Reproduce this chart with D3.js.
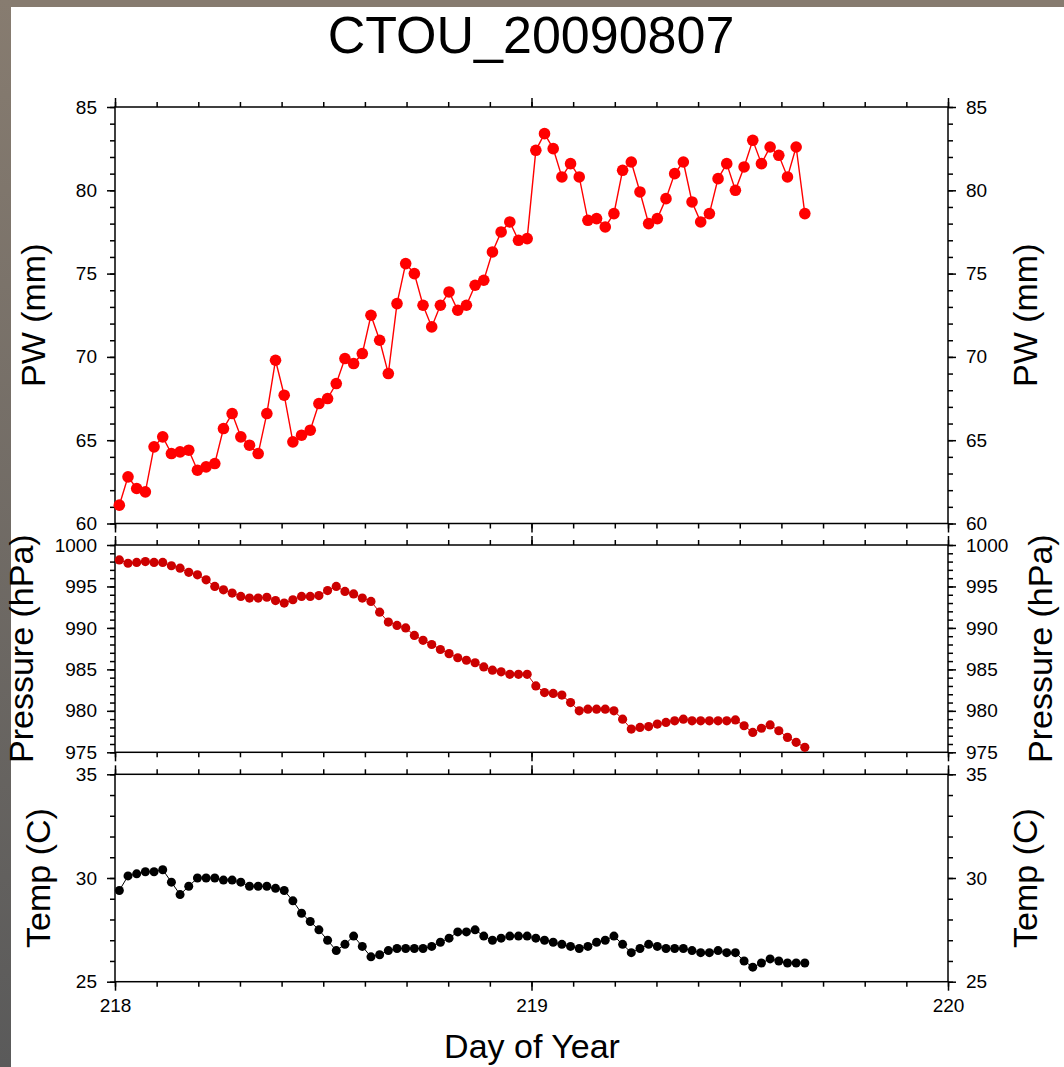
<!DOCTYPE html>
<html>
<head>
<meta charset="utf-8">
<script src="https://cdn.jsdelivr.net/npm/d3@7"></script>
<style>
  body { margin: 0; background: #fff; }
  svg text { font-family: "Liberation Sans", Arial, Helvetica, sans-serif; fill: #000; }
</style>
</head>
<body>
<svg id="chart" width="1064" height="1067"></svg>
<script>
// Half-hourly samples, hours after the start of day 218
const hours = [
  0.25, 0.75, 1.25, 1.75, 2.25, 2.75, 3.25, 3.75, 4.25, 4.75,
  5.25, 5.75, 6.25, 6.75, 7.25, 7.75, 8.25, 8.75, 9.25, 9.75,
  10.25, 10.75, 11.25, 11.75, 12.25, 12.75, 13.25, 13.75, 14.25, 14.75,
  15.25, 15.75, 16.25, 16.75, 17.25, 17.75, 18.25, 18.75, 19.25, 19.75,
  20.25, 20.75, 21.25, 21.75, 22.25, 22.75, 23.25, 23.75, 24.25, 24.75,
  25.25, 25.75, 26.25, 26.75, 27.25, 27.75, 28.25, 28.75, 29.25, 29.75,
  30.25, 30.75, 31.25, 31.75, 32.25, 32.75, 33.25, 33.75, 34.25, 34.75,
  35.25, 35.75, 36.25, 36.75, 37.25, 37.75, 38.25, 38.75, 39.25, 39.75
];

// Precipitable water (mm)
const pwValues = [
  61.1, 62.8, 62.1, 61.9, 64.6, 65.2, 64.2, 64.3, 64.4, 63.2,
  63.4, 63.6, 65.7, 66.6, 65.2, 64.7, 64.2, 66.6, 69.8, 67.7,
  64.9, 65.3, 65.6, 67.2, 67.5, 68.4, 69.9, 69.6, 70.2, 72.5,
  71.0, 69.0, 73.2, 75.6, 75.0, 73.1, 71.8, 73.1, 73.9, 72.8,
  73.1, 74.3, 74.6, 76.3, 77.5, 78.1, 77.0, 77.1, 82.4, 83.4,
  82.5, 80.8, 81.6, 80.8, 78.2, 78.3, 77.8, 78.6, 81.2, 81.7,
  79.9, 78.0, 78.3, 79.5, 81.0, 81.7, 79.3, 78.1, 78.6, 80.7,
  81.6, 80.0, 81.4, 83.0, 81.6, 82.6, 82.1, 80.8, 82.6, 78.6
];

// Surface pressure (hPa)
const pressureValues = [
  998.2, 997.8, 997.9, 998.0, 997.9, 997.9, 997.5, 997.2, 996.7, 996.4,
  995.8, 995.0, 994.6, 994.2, 993.8, 993.6, 993.6, 993.7, 993.3, 993.0,
  993.4, 993.8, 993.8, 993.9, 994.5, 995.0, 994.4, 994.1, 993.6, 993.2,
  991.9, 990.7, 990.3, 990.0, 989.1, 988.5, 988.0, 987.4, 986.9, 986.4,
  986.1, 985.8, 985.3, 984.9, 984.7, 984.4, 984.4, 984.4, 983.0, 982.2,
  982.1, 981.9, 981.0, 980.0, 980.2, 980.2, 980.2, 980.0, 979.0, 977.8,
  978.0, 978.1, 978.4, 978.6, 978.8, 979.0, 978.8, 978.8, 978.8, 978.8,
  978.8, 978.9, 978.2, 977.4, 977.9, 978.3, 977.6, 976.8, 976.2, 975.6
];

// Surface temperature (C)
const tempValues = [
  29.4, 30.1, 30.2, 30.3, 30.3, 30.4, 29.8, 29.2, 29.6, 30.0,
  30.0, 30.0, 29.9, 29.9, 29.8, 29.6, 29.6, 29.6, 29.5, 29.4,
  28.9, 28.3, 27.9, 27.5, 27.0, 26.5, 26.8, 27.2, 26.7, 26.2,
  26.3, 26.5, 26.6, 26.6, 26.6, 26.6, 26.7, 26.9, 27.1, 27.4,
  27.4, 27.5, 27.2, 27.0, 27.1, 27.2, 27.2, 27.2, 27.1, 27.0,
  26.9, 26.8, 26.7, 26.6, 26.7, 26.9, 27.0, 27.2, 26.8, 26.4,
  26.6, 26.8, 26.7, 26.6, 26.6, 26.6, 26.5, 26.4, 26.4, 26.5,
  26.4, 26.4, 26.0, 25.7, 25.9, 26.1, 26.0, 25.9, 25.9, 25.9
];

// Axis tick labels
const dayTicks = [218, 219, 220];
const pwTicks = [60, 65, 70, 75, 80, 85];
const pressureTicks = [975, 980, 985, 990, 995, 1000];
const tempTicks = [25, 30, 35];

const title = "CTOU_20090807";
const xTitle = "Day of Year";

const svg = d3.select("#chart");
const W = 1064, H = 1067;

svg.append("rect").attr("width", W).attr("height", H).attr("fill", "#fff");

// Window frame strips along the top and left edges
const defs = svg.append("defs");
const grad = defs.append("linearGradient").attr("id", "edge")
  .attr("x1", 0).attr("y1", 0).attr("x2", 0).attr("y2", 1);
grad.append("stop").attr("offset", "0%").attr("stop-color", "#877c70");
grad.append("stop").attr("offset", "100%").attr("stop-color", "#5a5a5a");
svg.append("rect").attr("x", 0).attr("y", 0).attr("width", W).attr("height", 7).attr("fill", "#867b6f");
svg.append("rect").attr("x", 0).attr("y", 0).attr("width", 11).attr("height", H).attr("fill", "url(#edge)");

const left = 115, right = 948;
const x = d3.scaleLinear().domain([218, 220]).range([left, right]);
const dayOf = h => 218 + h / 24;

const panels = [
  { values: pwValues, ticks: pwTicks, minor: 1, domain: [60, 85], top: 107, bottom: 523.5,
    label: "PW (mm)", color: "#ff0000", r: 5.8, lw: 1.4, lx: 45, rx: 1037 },
  { values: pressureValues, ticks: pressureTicks, minor: 1, domain: [975, 1000], top: 545, bottom: 752.3,
    label: "Pressure (hPa)", color: "#cc0000", r: 4.6, lw: 1, lx: 33, rx: 1052 },
  { values: tempValues, ticks: tempTicks, minor: 1, domain: [25, 35], top: 774.3, bottom: 981.7,
    label: "Temp (C)", color: "#000000", r: 4.5, lw: 1, lx: 50, rx: 1037 }
];

const minorDays = d3.range(218, 220.001, 0.1).map(d => +d.toFixed(1));

function styleAxis(g) {
  g.select(".domain").remove();
  g.selectAll(".tick line").attr("stroke", "#000").attr("stroke-width", 1.5);
  g.selectAll(".tick text").attr("font-size", 19).attr("fill", "#000")
    .attr("font-family", '"Liberation Sans", Arial, sans-serif');
}

panels.forEach((p, i) => {
  const y = d3.scaleLinear().domain(p.domain).range([p.bottom, p.top]);
  const minorY = d3.range(p.domain[0], p.domain[1] + 0.001, p.minor);

  // y axes, minor then labelled major ticks, both sides
  svg.append("g").attr("transform", `translate(${left},0)`)
    .call(d3.axisLeft(y).tickValues(minorY).tickSize(5).tickFormat("")).call(styleAxis);
  svg.append("g").attr("transform", `translate(${left},0)`)
    .call(d3.axisLeft(y).tickValues(p.ticks).tickSize(8).tickPadding(10).tickFormat(d3.format("d"))).call(styleAxis);
  svg.append("g").attr("transform", `translate(${right},0)`)
    .call(d3.axisRight(y).tickValues(minorY).tickSize(5).tickFormat("")).call(styleAxis);
  svg.append("g").attr("transform", `translate(${right},0)`)
    .call(d3.axisRight(y).tickValues(p.ticks).tickSize(8).tickPadding(10).tickFormat(d3.format("d"))).call(styleAxis);

  // x axes on top and bottom of every panel
  svg.append("g").attr("transform", `translate(0,${p.top})`)
    .call(d3.axisTop(x).tickValues(minorDays).tickSize(5).tickFormat("")).call(styleAxis);
  svg.append("g").attr("transform", `translate(0,${p.top})`)
    .call(d3.axisTop(x).tickValues(dayTicks).tickSize(9).tickFormat("")).call(styleAxis);
  svg.append("g").attr("transform", `translate(0,${p.bottom})`)
    .call(d3.axisBottom(x).tickValues(minorDays).tickSize(5).tickFormat("")).call(styleAxis);
  const last = i === panels.length - 1;
  svg.append("g").attr("transform", `translate(0,${p.bottom})`)
    .call(d3.axisBottom(x).tickValues(dayTicks).tickSize(9).tickPadding(8)
      .tickFormat(last ? d3.format("d") : "")).call(styleAxis);

  // panel frame
  svg.append("rect").attr("x", left).attr("y", p.top)
    .attr("width", right - left).attr("height", p.bottom - p.top)
    .attr("fill", "none").attr("stroke", "#000").attr("stroke-width", 1.5);

  // series line and markers
  const pts = hours.map((h, k) => [dayOf(h), p.values[k]]);
  svg.append("path").datum(pts)
    .attr("fill", "none").attr("stroke", p.color).attr("stroke-width", p.lw)
    .attr("d", d3.line().x(d => x(d[0])).y(d => y(d[1])));
  svg.append("g").selectAll("circle").data(pts).join("circle")
    .attr("cx", d => x(d[0])).attr("cy", d => y(d[1])).attr("r", p.r).attr("fill", p.color);

  // axis titles, both sides
  const cy = (p.top + p.bottom) / 2;
  svg.append("text").attr("transform", `translate(${p.lx},${cy}) rotate(-90)`)
    .attr("text-anchor", "middle").attr("font-size", 34).text(p.label);
  svg.append("text").attr("transform", `translate(${p.rx},${cy}) rotate(-90)`)
    .attr("text-anchor", "middle").attr("font-size", 34).text(p.label);
});

svg.append("text").attr("x", 531).attr("y", 53).attr("text-anchor", "middle")
  .attr("font-size", 52).text(title);

svg.append("text").attr("x", 532).attr("y", 1058).attr("text-anchor", "middle")
  .attr("font-size", 34).text(xTitle);
</script>
</body>
</html>
